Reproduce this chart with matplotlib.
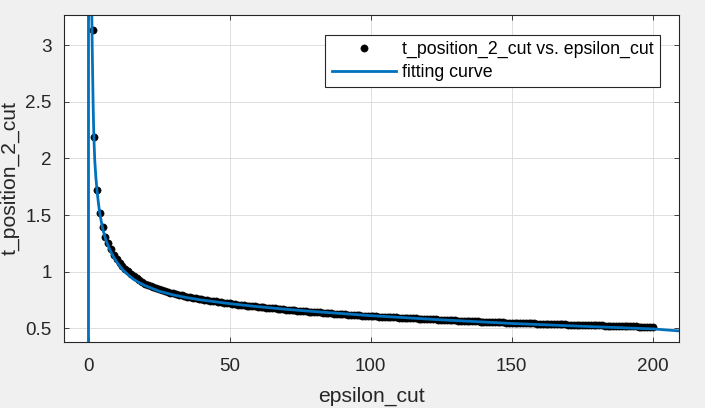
import matplotlib
matplotlib.use("Agg")
import matplotlib.pyplot as plt

# ---------------------------------------------------
# data (epsilon_cut vs t_position_2_cut)
# ---------------------------------------------------
epsilon_cut = [1.45, 1.8] + list(range(3, 201))
t_position_2_cut = [
    3.130, 2.190, 1.720, 1.520, 1.395, 1.310, 1.250, 1.197, 1.151, 1.110,
    1.079, 1.050, 1.025, 1.002, 0.980, 0.960, 0.942, 0.925, 0.908, 0.893,
    0.882, 0.872, 0.863, 0.853, 0.845, 0.836, 0.828, 0.820, 0.814, 0.808,
    0.802, 0.796, 0.791, 0.785, 0.780, 0.775, 0.770, 0.765, 0.761, 0.756,
    0.752, 0.748, 0.744, 0.741, 0.737, 0.733, 0.730, 0.727, 0.723, 0.720,
    0.717, 0.714, 0.710, 0.707, 0.704, 0.701, 0.698, 0.696, 0.693, 0.690,
    0.687, 0.685, 0.682, 0.680, 0.677, 0.675, 0.672, 0.670, 0.668, 0.665,
    0.663, 0.661, 0.659, 0.656, 0.654, 0.652, 0.650, 0.648, 0.646, 0.644,
    0.642, 0.640, 0.638, 0.636, 0.634, 0.632, 0.630, 0.629, 0.627, 0.625,
    0.623, 0.621, 0.620, 0.618, 0.616, 0.615, 0.613, 0.611, 0.610, 0.608,
    0.607, 0.605, 0.604, 0.603, 0.601, 0.600, 0.599, 0.597, 0.596, 0.595,
    0.594, 0.592, 0.591, 0.590, 0.588, 0.587, 0.586, 0.584, 0.583, 0.582,
    0.580, 0.579, 0.578, 0.576, 0.575, 0.574, 0.573, 0.572, 0.571, 0.570,
    0.569, 0.568, 0.567, 0.566, 0.565, 0.564, 0.563, 0.562, 0.560, 0.559,
    0.558, 0.557, 0.556, 0.555, 0.554, 0.553, 0.552, 0.551, 0.550, 0.549,
    0.548, 0.547, 0.547, 0.546, 0.545, 0.544, 0.543, 0.543, 0.542, 0.541,
    0.540, 0.539, 0.539, 0.538, 0.537, 0.536, 0.535, 0.535, 0.534, 0.533,
    0.532, 0.531, 0.531, 0.530, 0.529, 0.528, 0.528, 0.527, 0.526, 0.526,
    0.525, 0.525, 0.524, 0.523, 0.523, 0.522, 0.521, 0.521, 0.520, 0.519,
    0.519, 0.518, 0.518, 0.517, 0.516, 0.516, 0.515, 0.514, 0.514, 0.513,
]

# fitted curve, sampled (has a pole right at epsilon = 0)
fit_x = [-8.6, -4.0, -1.0, -0.3, -0.05, 0.02, 0.3, 0.6, 0.9, 1.17,
         1.3, 1.45, 1.65, 1.88, 2.2, 2.6, 3.0, 3.5, 4.0, 5.0,
         6.0, 7.0, 8.0, 9.0, 10.0, 12.0, 14.0, 16.0, 18.0, 20.0,
         25.0, 30.0, 35.0, 40.0, 50.0, 60.0, 70.0, 80.0, 100.0, 125.0,
         150.0, 175.0, 200.0, 209.4]
fit_y = [-0.9, -2.2, -9.0, -30.0, -180.0, 400.0, 25.0, 8.5, 4.6, 3.24,
         2.98, 2.74, 2.44, 2.19, 1.98, 1.83, 1.715, 1.605, 1.51, 1.38,
         1.29, 1.225, 1.17, 1.125, 1.085, 1.02, 0.972, 0.932, 0.902, 0.877,
         0.828, 0.795, 0.770, 0.750, 0.718, 0.691, 0.668, 0.648, 0.612, 0.575,
         0.543, 0.518, 0.495, 0.477]

x_ticks = [0, 50, 100, 150, 200]
y_ticks = [0.5, 1, 1.5, 2, 2.5, 3]
y_tick_labels = ["0.5", "1", "1.5", "2", "2.5", "3"]

# ---------------------------------------------------
# MATLAB-ish look
# ---------------------------------------------------
plt.rcParams['font.family'] = ['Liberation Sans', 'DejaVu Sans']
dark = '#262626'
fit_blue = '#0072BD'

fig = plt.figure(figsize=(7.05, 4.08), dpi=100, facecolor='#f0f0f0')
ax = fig.add_axes([0.0912, 0.1625, 0.8723, 0.8007])
ax.set_facecolor('white')

ax.plot(epsilon_cut, t_position_2_cut, linestyle='none', marker='o',
        markersize=5.2, color='black', markeredgewidth=0.4,
        label='t_position_2_cut vs. epsilon_cut')
ax.plot(fit_x, fit_y, color=fit_blue, linewidth=2.0, label='fitting curve')

ax.set_xlim(-8.6, 209.4)
ax.set_ylim(0.382, 3.265)
ax.set_xticks(x_ticks)
ax.set_yticks(y_ticks)
ax.set_yticklabels(y_tick_labels)

ax.grid(True, color='#dedede', linewidth=0.7)
ax.set_axisbelow(True)
for s in ax.spines.values():
    s.set_color(dark)
    s.set_linewidth(0.8)
ax.tick_params(direction='in', length=3.8, width=0.6, color=dark,
               labelcolor=dark, labelsize=13.6, top=True, right=True)
ax.tick_params(axis='x', pad=12)
ax.tick_params(axis='y', pad=9)

ax.set_xlabel('epsilon_cut', fontsize=15.2, color=dark, labelpad=8)
ax.set_ylabel('t_position_2_cut', fontsize=15.2, color=dark, labelpad=4)

leg = ax.legend(loc='upper right', fontsize=12.8, numpoints=1,
                handlelength=3.6, handletextpad=0.35, borderaxespad=1.1,
                labelspacing=0.35, borderpad=0.35, fancybox=False,
                framealpha=1, edgecolor=dark)
leg.get_frame().set_linewidth(0.8)

fig.savefig('out.png', dpi=100, facecolor=fig.get_facecolor())
